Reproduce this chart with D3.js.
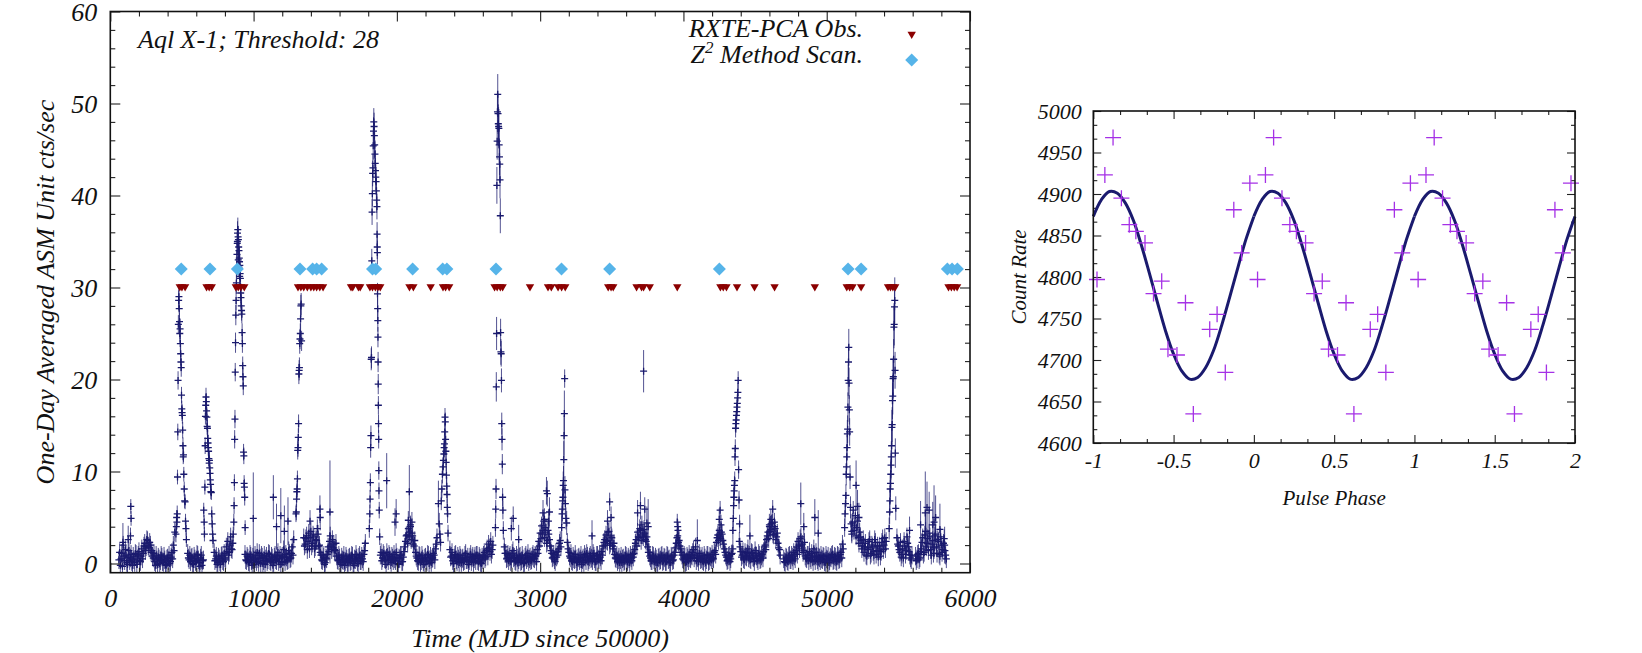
<!DOCTYPE html>
<html><head><meta charset="utf-8">
<script src="https://cdn.jsdelivr.net/npm/d3@7"></script>
<style>
body{margin:0;background:#fff}
text{font-family:"Liberation Serif","Times New Roman",serif;font-style:italic}
</style>
</head><body>
<svg id="c" width="1642" height="653"></svg>
<script>
// ================= DATA =================
// Left panel: ASM one-day light curve of Aql X-1 (quiescent samples, two interleaved series)
const baseStep = 10;                 // days between listed quiescent samples
const baseStartA = 60, baseStartB = 65;
const baseErr = 1.0;                 // typical one-day ASM uncertainty in quiescence
const baseRateA = [
 0.4,-0.2,1.1,2.0,0.3,0.9,-0.1,1.4,0.6,0.2,
 0.8,0.1,1.0,0.5,1.3,0.2,1.6,1.1,2.2,1.8,
 2.5,1.7,2.0,1.4,0.6,0.2,0.9,-0.1,0.5,0.3,
 0.7,0.1,0.4,-0.2,0.6,0.9,0.2,1.2,2.0,3.4,
 null,null,null,null,null,null,null,null,1.1,0.4,
 0.2,0.7,-0.1,0.5,0.3,0.9,0.1,0.6,-0.2,0.4,
 null,null,null,null,null,null,null,0.3,0.8,0.1,
 0.5,-0.1,0.9,0.2,0.6,1.8,2.4,1.2,2.9,1.5,
 null,null,null,null,null,null,null,null,1.0,0.3,
 0.6,0.1,0.8,-0.2,0.4,0.9,0.2,0.5,1.1,0.0,
 0.7,0.3,-0.1,0.8,0.4,1.0,0.2,0.6,0.1,0.9,
 0.3,1.2,0.5,-0.1,0.8,1.5,0.2,0.7,0.4,1.1,
 0.6,1.8,2.6,null,null,null,null,null,null,2.8,
 2.1,3.0,2.4,1.6,3.5,2.2,2.9,1.8,2.5,3.2,
 2.0,0.9,0.3,0.7,0.1,0.5,1.8,2.4,1.9,2.6,
 2.1,1.4,0.8,0.3,0.6,-0.1,0.4,0.9,0.2,0.5,
 0.1,0.7,0.3,0.8,-0.2,0.4,0.6,0.0,0.9,0.3,
 0.5,1.0,2.2,null,null,null,null,null,null,null,
 null,null,null,1.2,0.6,0.9,0.4,1.2,0.3,0.8,
 0.1,0.6,1.0,0.3,0.7,-0.1,0.5,0.9,0.2,1.3,
 2.4,3.1,3.8,3.4,2.6,3.0,1.9,1.2,0.6,0.2,
 0.8,0.3,0.5,-0.1,0.7,0.2,0.9,0.4,0.1,0.6,
 0.9,1.6,2.8,null,null,null,null,null,null,null,
 null,1.5,0.8,0.3,0.6,1.0,0.2,0.5,0.9,0.1,
 0.6,0.3,1.1,0.4,-0.1,0.7,0.2,0.8,0.5,0.3,
 0.9,0.2,0.6,0.0,0.4,1.2,0.7,1.6,2.1,1.3,
 1.0,2.0,null,null,null,null,null,null,null,1.8,
 1.1,0.6,0.3,0.9,0.5,1.4,0.7,0.2,0.6,0.4,
 0.8,0.3,0.5,0.1,0.9,0.6,0.2,0.7,0.4,1.0,
 0.5,0.8,1.5,2.4,3.3,4.1,3.6,2.8,3.9,2.5,
 3.2,1.9,1.1,0.7,0.4,1.2,0.9,1.6,2.5,null,
 null,null,null,2.3,1.2,0.6,0.3,0.8,0.4,0.5,
 0.2,0.7,0.5,-0.1,0.6,1.0,0.3,0.8,0.4,0.9,
 0.6,1.1,0.5,0.2,0.9,0.4,0.7,1.3,1.9,2.6,
 3.1,2.4,3.5,2.2,2.8,1.6,1.0,0.5,0.2,0.7,
 0.4,0.1,0.6,0.3,0.8,0.2,0.5,0.9,0.3,0.7,
 1.5,2.6,3.4,2.8,3.6,4.2,2.9,3.3,2.4,1.8,
 1.2,0.6,0.3,0.8,0.2,0.5,0.1,0.7,0.4,0.9,
 0.3,0.6,0.2,0.8,0.5,0.1,0.7,0.4,1.2,2.2,
 3.0,2.5,1.6,0.9,0.4,0.7,0.2,0.6,1.0,0.5,
 0.8,1.5,0.9,0.3,0.6,1.1,0.4,0.8,0.2,0.6,
 0.4,0.9,0.3,0.7,1.0,0.5,1.4,2.3,3.1,3.6,
 2.7,3.2,2.1,1.2,0.7,0.4,0.9,0.5,1.1,null,
 null,null,null,2.4,1.3,0.9,0.5,1.2,0.7,1.6,
 0.9,0.4,1.1,0.6,1.4,0.8,0.3,0.9,0.5,1.0,
 1.3,2.0,2.6,3.4,4.0,3.7,4.4,3.1,3.8,2.9,
 2.2,1.5,null,null,0.5,0.1,0.6,0.2,0.9,0.4,
 0.7,1.2,0.5,1.8,2.4,1.6,2.9,2.1,1.4,0.8,
 0.5,0.9,1.3,0.4,0.7,1.6,0.3,0.8,0.2,0.6,
 0.9,0.4,0.7,0.1,0.5,0.8,0.3,0.6,1.0,0.4,
 0.7,0.2,0.8,0.5,1.2,2.1,null,null,null,null,
 null,null,4.5,3.6,5.2,3.9,2.8,3.4,2.5,1.9,
 1.2,2.2,0.8,1.5,2.6,1.1,1.8,0.9,2.3,1.4,
 0.7,1.9,1.3,2.7,2.0,1.6,null,null,null,null,
 null,null,null,2.8,1.9,1.2,0.7,1.6,2.4,1.0,
 2.9,1.8,0.9,0.4,null,null,0.8,0.5,1.1,0.6,
 1.6,2.8,1.2,3.5,2.2,1.4,2.9,0.9,2.5,1.7,
 3.2,1.1,2.4,0.8,2.0,1.5,2.7,0.9
];
const baseRateB = [
 1.2,0.5,-0.3,0.8,1.5,0.1,0.7,0.3,1.0,-0.2,
 0.4,1.1,-0.1,0.9,0.3,0.8,0.5,1.9,1.4,2.6,
 1.9,2.3,1.2,0.8,1.1,-0.2,0.4,0.7,0.0,0.9,
 0.2,0.8,-0.1,0.5,0.3,0.0,0.7,0.5,1.4,null,
 null,null,null,null,null,null,null,null,0.6,0.9,
 0.6,0.0,0.8,0.2,1.0,0.4,-0.3,0.9,0.3,null,
 null,null,null,null,null,null,1.2,0.5,-0.1,0.7,
 0.2,0.8,0.3,1.1,0.4,1.3,0.9,2.0,1.6,2.2,
 null,null,null,null,null,null,null,null,0.4,0.8,
 0.2,1.0,0.3,0.7,-0.1,0.5,1.2,0.1,0.6,0.9,
 0.0,0.9,0.5,0.2,1.1,0.3,0.8,-0.2,0.7,0.4,
 0.8,0.2,0.9,0.6,0.1,0.7,1.0,0.3,1.4,0.5,
 1.1,0.9,null,null,null,null,null,null,null,1.9,
 2.7,1.5,3.3,2.8,1.9,3.1,1.6,2.6,3.8,1.9,
 1.2,0.4,0.9,-0.1,0.6,1.0,1.3,3.0,1.5,1.7,
 1.5,2.2,0.4,0.9,0.1,0.7,0.3,-0.2,0.8,0.1,
 0.6,0.2,0.9,0.0,0.5,1.0,0.2,0.7,0.3,0.8,
 0.2,1.4,null,null,null,null,null,null,null,null,
 null,null,0.9,0.3,1.1,0.5,-0.1,0.7,1.0,0.4,
 0.8,0.3,0.5,1.2,0.0,0.6,0.9,0.2,0.7,1.8,
 3.0,2.2,2.9,4.0,3.3,2.1,2.5,0.8,0.3,0.9,
 0.1,0.9,0.2,0.6,0.3,1.0,0.0,0.8,0.5,1.1,
 0.4,2.1,null,null,null,null,null,null,null,null,
 null,0.7,1.2,0.0,0.9,0.4,0.8,0.1,0.6,0.5,
 0.2,0.9,0.4,0.7,0.3,1.0,0.6,0.1,0.8,0.9,
 0.3,0.8,0.1,0.7,0.9,0.5,1.4,0.8,1.7,2.4,
 1.5,null,null,null,null,null,null,null,null,1.1,
 0.5,1.0,0.7,0.2,1.1,0.6,0.3,0.9,0.1,0.7,
 0.2,0.9,0.0,0.7,0.4,1.1,0.5,0.3,0.8,0.6,
 0.9,0.2,1.1,1.9,2.7,3.2,4.6,3.4,2.2,3.6,
 2.6,1.4,0.6,1.0,0.2,0.7,1.3,2.2,1.8,null,
 null,null,null,1.6,0.8,1.1,0.2,0.5,1.0,0.1,
 0.6,0.3,0.9,0.4,0.1,0.7,1.1,0.2,0.7,0.5,
 0.3,0.8,0.2,0.9,0.5,1.0,0.3,0.9,2.3,2.0,
 2.5,3.4,2.0,3.0,1.9,2.2,0.6,0.9,0.4,0.1,
 0.8,0.5,0.2,0.9,0.4,0.7,0.1,0.6,1.0,1.1,
 2.2,1.9,2.9,3.8,2.5,3.1,3.7,2.6,2.9,1.2,
 0.8,0.3,0.9,0.4,0.7,0.1,0.6,0.3,0.8,0.2,
 0.7,0.2,0.9,0.4,0.1,0.8,0.3,0.9,1.7,2.8,
 2.3,1.9,1.2,0.5,0.9,0.1,0.8,0.3,0.6,0.9,
 1.2,0.6,1.8,0.7,0.2,0.8,0.5,0.3,0.9,0.1,
 0.9,0.2,0.8,0.4,0.6,1.2,1.0,2.8,2.5,2.9,
 3.4,2.5,1.6,0.9,0.3,0.8,0.2,1.0,1.6,null,
 null,null,null,1.8,0.7,1.3,0.4,0.8,1.1,0.6,
 0.5,1.2,0.7,0.2,0.9,0.5,1.1,0.4,0.8,0.6,
 1.8,1.5,3.0,2.7,3.5,4.3,3.2,4.0,2.6,3.3,
 1.7,0.9,null,null,0.2,0.7,0.3,0.8,0.4,0.9,
 0.3,0.8,1.4,1.0,2.0,2.7,1.9,1.2,2.3,0.6,
 0.9,0.3,0.6,1.1,0.2,0.8,1.2,0.4,0.7,0.3,
 0.5,0.8,0.2,0.9,0.4,0.1,0.7,0.9,0.3,0.8,
 0.3,0.9,0.4,1.0,0.6,1.6,null,null,null,null,
 null,3.2,5.8,4.1,3.0,4.6,2.2,2.9,1.6,2.6,
 1.8,0.9,1.7,2.4,0.9,2.0,1.3,2.6,1.0,1.9,
 1.4,0.8,2.3,1.5,2.8,2.4,null,null,null,null,
 null,null,null,2.1,1.5,2.3,1.0,0.6,1.9,1.4,
 2.2,1.3,0.6,0.9,null,null,0.3,1.0,0.4,1.3,
 2.3,1.0,3.1,1.8,2.7,3.3,1.5,2.1,1.1,3.0,
 1.8,2.6,1.0,2.9,1.2,2.2,1.4,0.5
];
// outburst / elevated points: [day, rate, error]
const early = [[88,2.3,2.1],[125,2.6,1.5],[141,3.0,0.9],[143,6.2,0.8],[145,4.9,0.8]];
const burstA = [[458,3.2,0.9],[461,4.0,0.8],[463,5.0,0.8],[465,4.5,0.8],[467,5.4,0.9],[469,9.4,0.8],[471,14.3,0.9],[473,19.9,1.0],[475,26.0,1.0],[477,28.6,1.1],[479,29.0,1.2],[481,27.7,1.0],[483,26.3,1.0],[485,25.0,1.0],[487,25.5,1.1],[489,23.9,1.0],[491,22.8,1.0],[493,21.9,1.0],[495,21.3,1.0],[497,18.3,0.9],[499,16.8,0.9],[501,16.4,0.9],[503,16.1,0.9],[505,14.5,0.9],[507,12.8,0.9],[509,11.6,0.8],[511,11.8,0.8],[513,9.7,0.8],[516,8.1,0.8],[519,6.8,0.8],[522,6.7,0.8],[525,4.6,0.8],[528,3.8,0.8],[531,2.6,0.8]];
const burstB = [[652,5.8,0.8],[655,4.5,0.8],[657,3.2,0.8],[660,8.3,0.8],[662,12.8,0.9],[664,16.0,0.9],[666,17.2,0.9],[668,18.1,1.0],[670,17.6,0.9],[672,16.6,0.9],[674,15.9,0.9],[676,14.9,0.9],[678,14.7,0.9],[680,13.6,0.9],[682,13.1,0.9],[684,12.6,0.9],[686,12.2,0.9],[688,11.4,0.8],[690,10.9,0.8],[692,11.2,0.9],[694,10.4,0.8],[696,9.8,0.8],[698,9.1,0.8],[700,8.6,0.8],[702,7.8,0.8],[705,7.7,0.8],[708,5.4,0.8],[711,4.3,0.8],[714,3.2,0.8],[717,2.5,0.8]];
const burstC = [[858,3.2,0.8],[862,4.5,0.9],[864,6.3,0.9],[866,8.8,0.9],[868,13.5,1.0],[870,15.7,1.0],[872,20.8,1.0],[874,24.0,1.1],[876,27.0,1.1],[878,28.6,1.1],[880,30.5,1.2],[882,32.0,1.2],[884,33.6,1.2],[886,34.8,1.2],[887,35.0,1.2],[888,35.9,1.3],[890,36.3,1.3],[892,35.5,1.2],[893,33.0,1.2],[894,35.2,1.2],[896,34.4,1.2],[897,32.2,1.1],[898,34.0,1.2],[900,33.2,1.2],[902,32.8,1.2],[903,31.2,1.1],[904,32.4,1.2],[906,31.5,1.1],[908,31.0,1.1],[910,29.4,1.1],[912,28.9,1.1],[914,28.0,1.1],[916,27.5,1.1],[918,27.1,1.0],[920,25.1,1.0],[922,23.9,1.0],[924,21.5,1.0],[926,20.3,1.0],[928,19.3,1.0],[930,12.1,0.9],[932,11.7,0.9],[934,8.7,0.9],[936,8.3,0.9],[938,7.2,0.9],[941,3.9,0.8]];
const burstD = [[1296,5.4,0.9],[1298,5.6,0.9],[1300,7.0,0.9],[1302,7.8,0.9],[1304,8.1,0.9],[1306,9.2,0.9],[1308,12.3,1.0],[1310,12.6,1.0],[1312,13.7,1.0],[1314,15.2,1.0],[1316,20.6,1.1],[1318,21.0,1.1],[1320,21.3,1.1],[1322,23.9,1.1],[1324,24.4,1.1],[1326,25.0,1.1],[1328,26.6,1.2],[1330,28.0,1.2],[1332,28.2,1.2],[1335,24.2,1.1]];
const burstE = [[1808,3.8,1.0],[1811,5.4,1.0],[1813,7.0,1.0],[1815,8.8,1.0],[1817,12.6,1.1],[1819,13.9,1.1],[1821,22.2,1.2],[1823,22.4,1.2],[1825,32.9,1.3],[1827,38.2,1.4],[1829,40.2,1.4],[1831,42.4,1.4],[1833,43.0,1.4],[1835,45.4,1.5],[1837,47.0,1.5],[1839,48.0,1.5],[1841,47.5,1.5],[1843,46.5,1.5],[1845,45.5,1.5],[1847,44.5,1.5],[1849,43.5,1.4],[1851,42.7,1.4],[1853,42.0,1.4],[1855,41.5,1.4],[1857,40.5,1.4],[1859,39.5,1.4],[1861,38.8,1.4],[1862,35.8,1.3],[1863,34.4,1.3],[1864,33.8,1.3],[1865,29.3,1.2],[1866,27.7,1.2],[1867,26.4,1.2],[1868,24.6,1.1],[1869,21.9,1.1],[1870,19.5,1.1],[1871,17.2,1.0],[1872,15.2,1.0],[1873,13.5,1.0],[1874,10.1,1.0],[1875,7.9,0.9],[1877,5.8,0.9],[1880,2.9,0.9]];
const burstF = [[2290,6.5,2.5],[2296,4.3,1.2],[2300,3.2,1.0],[2305,2.3,1.0],[2310,6.8,1.0],[2314,8.1,1.0],[2318,9.7,1.0],[2322,10.5,1.0],[2325,11.2,1.0],[2328,11.9,1.0],[2330,12.6,1.0],[2332,13.0,1.0],[2334,14.3,1.0],[2336,15.9,1.0],[2338,15.4,1.0],[2340,13.5,1.0],[2342,12.2,1.0],[2344,11.0,1.0],[2346,9.6,1.0],[2348,8.4,1.0],[2350,7.5,1.0],[2352,6.1,1.0],[2354,5.4,1.0],[2357,3.3,0.9]];
const burstG = [[2688,3.9,1.0],[2690,5.9,1.0],[2692,8.1,1.1],[2694,19.2,1.6],[2696,25.0,1.8],[2698,41.1,2.0],[2700,45.9,2.0],[2702,49.1,2.2],[2704,51.0,2.2],[2706,48.9,2.2],[2708,47.8,2.1],[2710,47.5,2.1],[2712,47.3,2.1],[2714,45.5,2.0],[2716,44.2,2.0],[2718,43.4,2.0],[2720,41.7,2.0],[2722,37.8,1.9],[2724,25.1,1.5],[2726,23.0,1.4],[2728,22.8,1.4],[2730,19.9,1.3],[2732,15.2,1.2],[2734,13.5,1.2],[2736,10.8,1.1],[2738,7.2,1.0],[2740,5.8,1.0],[2743,3.6,1.0]];
const burstH = [[3150,3.9,1.2],[3153,5.4,1.2],[3155,5.9,1.3],[3157,6.8,1.4],[3159,7.2,1.5],[3161,8.5,1.5],[3163,9.0,1.6],[3165,11.3,2.0],[3167,13.9,2.2],[3169,16.3,2.5],[3171,20.1,1.0],[3173,8.0,1.5],[3176,6.5,1.4],[3180,4.9,1.2],[3185,4.4,1.3]];
const burstI = [[4345,3.6,1.0],[4348,4.9,1.0],[4350,6.3,1.0],[4352,7.2,1.0],[4354,7.9,1.0],[4356,8.5,1.0],[4358,9.0,1.0],[4360,11.6,1.0],[4362,12.5,1.0],[4364,14.7,1.0],[4366,15.2,1.0],[4368,15.6,1.0],[4370,16.1,1.0],[4372,16.5,1.0],[4374,17.0,1.0],[4376,17.4,1.0],[4378,18.0,1.0],[4380,18.6,1.0],[4382,19.9,1.0],[4385,10.2,1.0],[4388,6.9,1.0],[4392,4.3,1.0]];
const burstJ = [[5125,3.9,1.0],[5128,5.4,1.1],[5131,6.5,1.1],[5134,7.4,1.2],[5136,9.7,1.2],[5138,10.5,1.3],[5140,11.6,1.3],[5142,12.6,1.4],[5144,14.1,1.5],[5146,14.6,1.5],[5148,17.0,1.6],[5150,19.9,1.7],[5152,21.9,1.8],[5154,23.5,2.0],[5156,19.6,1.7],[5158,16.7,1.6],[5160,14.3,1.5],[5163,9.4,1.3],[5166,6.1,1.2],[5170,4.3,1.1],[5175,3.5,1.1]];
const burstK = [[5436,3.8,1.2],[5439,5.6,1.3],[5441,6.8,1.4],[5443,8.1,1.5],[5445,8.7,1.5],[5447,9.7,1.6],[5449,10.7,1.6],[5451,11.6,1.7],[5453,12.8,1.8],[5455,14.8,1.9],[5457,15.1,1.9],[5459,17.7,2.0],[5461,18.2,2.0],[5463,20.1,2.1],[5465,20.3,2.1],[5467,22.2,2.2],[5469,25.7,2.3],[5471,26.0,2.3],[5473,27.9,2.4],[5475,28.6,2.5],[5477,21.0,2.0],[5479,12.0,1.6],[5482,6.0,1.3]];
const scattered = [[998,4.9,5.0],[1138,7.2,2.4],[1160,4.0,2.5],[1190,5.2,3.0],[1215,3.5,2.8],[1240,4.6,2.6],
 [1394,4.6,1.2],[1463,5.9,1.5],[1465,5.0,1.4],[1533,5.6,5.6],[1929,9.0,3.0],[1987,4.5,1.5],[1995,5.4,1.6],
 [2080,4.7,1.0],[2087,7.8,2.9],[2095,4.2,1.0],[2105,4.5,1.1],[2799,3.8,1.3],[2812,4.9,1.3],[2850,2.6,1.6],
 [3020,5.5,1.4],[3030,4.8,1.2],[3044,7.9,1.5],[3050,7.6,1.4],[3058,4.6,1.3],[3065,5.6,1.6],[3362,3.0,1.7],
 [3470,4.6,1.2],[3485,6.7,1.0],[3495,5.0,1.2],[3680,5.5,1.4],[3700,6.3,1.5],[3722,20.9,2.3],[3730,5.9,1.3],
 [3745,4.4,1.8],[3754,4.0,3.0],[3957,4.5,0.9],[3960,4.0,0.8],[3962,3.6,0.9],[4097,2.5,2.3],[4250,4.8,1.2],
 [4256,5.8,1.0],[4262,4.2,1.1],[4464,3.0,2.3],[4600,4.2,1.2],[4610,4.8,1.1],[4623,5.9,1.0],[4635,4.5,1.0],
 [4819,6.5,2.3],[4840,4.0,1.5],[4917,5.0,2.0],[4941,3.3,2.5],[5205,8.5,2.7],[5215,6.2,1.8],[5225,5.0,1.6],
 [5578,3.6,1.5],[5655,4.2,2.6],[5688,5.5,4.5],[5690,3.5,2.2],[5700,6.1,2.8],[5715,5.8,2.0],[5740,4.2,2.5],
 [5749,4.5,4.0],[5760,5.0,2.4],[5790,3.7,2.8],[5823,2.0,2.0]];
// RXTE-PCA pointed observations (plotted at 30) and Z^2 scans (plotted at 32)
const pcaObs = [485,500,522,672,690,708,876,893,912,935,1310,1330,1350,1375,1400,1420,1440,1462,1485,
 1680,1692,1732,1744,1812,1830,1850,1868,1884,2088,2115,2236,2322,2340,2365,2682,2700,2722,2738,2929,
 3055,3078,3125,3150,3175,3475,3495,3510,3673,3708,3722,3765,3957,4258,4278,4300,4374,4496,4636,4917,
 5140,5160,5180,5240,5428,5445,5462,5478,5850,5870,5890,5910];
const pcaLevel = 30;
const z2Scan = [495,696,887,1324,1412,1440,1475,1830,1852,2110,2320,2349,2692,3149,3485,4251,5149,5240,5842,5875,5912];
const z2Level = 32;
const xTicks = [0,1000,2000,3000,4000,5000,6000];
const xTickLabels = ["0","1000","2000","3000","4000","5000","6000"];
const yTicks = [0,10,20,30,40,50,60];
const yTickLabels = ["0","10","20","30","40","50","60"];

// Right panel: pulse profile (one cycle, repeated over phases -1..2)
const pulsePhase = [-0.977,-0.928,-0.877,-0.825,-0.776,-0.735,-0.678,-0.625,-0.574,-0.535,-0.479,-0.426,-0.377,-0.275,-0.229,-0.178,-0.125,-0.076,-0.025];
const pulseRate  = [4797,4923,4968,4895,4863,4855,4841,4780,4795,4713,4706,4769,4635,4737,4755,4685,4881,4829,4913];
const cycles = [0,1,2];
const fitPhase = [0,0.05,0.1,0.15,0.2,0.25,0.3,0.35,0.4,0.45,0.5,0.55,0.6,0.65,0.7,0.75,0.8,0.85,0.9,0.95,1.0];
const fitRate  = [4873,4893,4903,4901,4889,4868,4838,4804,4769,4735,4707,4687,4677,4679,4691,4712,4742,4776,4811,4845,4873];
const pxTicks = [-1,-0.5,0,0.5,1,1.5,2];
const pxTickLabels = ["-1","-0.5","0","0.5","1","1.5","2"];
const pyTicks = [4600,4650,4700,4750,4800,4850,4900,4950,5000];
const pyTickLabels = ["4600","4650","4700","4750","4800","4850","4900","4950","5000"];

// ================= DRAWING =================
const svg = d3.select("#c");
svg.append("rect").attr("width",1642).attr("height",653).attr("fill","#fff");
const NAVY = "#1a1a6e", DARKRED = "#8b0000", SKY = "#56b4e9", VIOLET = "#a531e6";

function fixAxis(g, fs){
  g.select(".domain").remove();
  g.attr("font-family", null).attr("font-size", fs).style("color","#111");
  g.selectAll("line").attr("stroke","#222").attr("stroke-width",1.1);
}

// ---------- LEFT ----------
const L = {x0:110.3, x1:970, yTop:11.5, yBot:572.7};
const x = d3.scaleLinear().domain([0,6000]).range([L.x0, L.x1]);
const y = d3.scaleLinear().domain([-1,60]).range([L.yBot, L.yTop]);
const xMinor = d3.range(0,6001,200).filter(d=>!xTicks.includes(d));
const yMinor = d3.range(0,61,2).filter(d=>!yTicks.includes(d));

svg.append("clipPath").attr("id","clipL").append("rect")
  .attr("x",L.x0).attr("y",L.yTop).attr("width",L.x1-L.x0).attr("height",L.yBot-L.yTop);

const pts = [];
baseRateA.forEach((v,i)=>{ if(v!==null) pts.push({t: baseStartA+i*baseStep, v, e: baseErr}); });
baseRateB.forEach((v,i)=>{ if(v!==null) pts.push({t: baseStartB+i*baseStep, v, e: baseErr}); });
[early,burstA,burstB,burstC,burstD,burstE,burstF,burstG,burstH,burstI,burstJ,burstK,scattered]
  .forEach(arr=>arr.forEach(([t,v,e])=>pts.push({t,v,e})));

const gData = svg.append("g").attr("clip-path","url(#clipL)");
gData.selectAll("line.eb").data(pts).join("line").attr("class","eb")
  .attr("x1",d=>x(d.t)).attr("x2",d=>x(d.t))
  .attr("y1",d=>y(d.v-d.e)).attr("y2",d=>y(d.v+d.e))
  .attr("stroke",NAVY).attr("stroke-width",1).attr("stroke-opacity",0.75);
gData.selectAll("path.cr").data(pts).join("path").attr("class","cr")
  .attr("d","M-3.5,0H3.5M0,-3.5V3.5")
  .attr("transform",d=>`translate(${x(d.t)},${y(d.v)})`)
  .attr("stroke",NAVY).attr("stroke-width",1.3).attr("fill","none");

const triPath = "M-4.2,-3.3L4.2,-3.3L0,3.9Z";
const diaPath = "M0,-6.5L6.5,0L0,6.5L-6.5,0Z";
svg.append("g").selectAll("path").data(pcaObs).join("path")
  .attr("d",triPath).attr("transform",d=>`translate(${x(d)},${y(pcaLevel)})`).attr("fill",DARKRED);
svg.append("g").selectAll("path").data(z2Scan).join("path")
  .attr("d",diaPath).attr("transform",d=>`translate(${x(d)},${y(z2Level)})`).attr("fill",SKY);

// axes left
const axL = svg.append("g");
axL.append("g").attr("transform",`translate(0,${L.yBot})`)
  .call(d3.axisBottom(x).tickValues(xTicks).tickFormat((d,i)=>xTickLabels[i]).tickSizeInner(-10).tickSizeOuter(0))
  .call(g=>fixAxis(g,26)).call(g=>g.selectAll("text").attr("dy",0).attr("y",34.8));
axL.append("g").attr("transform",`translate(0,${L.yBot})`)
  .call(d3.axisBottom(x).tickValues(xMinor).tickFormat("").tickSizeInner(-5).tickSizeOuter(0)).call(g=>fixAxis(g,26));
axL.append("g").attr("transform",`translate(0,${L.yTop})`)
  .call(d3.axisTop(x).tickValues(xTicks).tickFormat("").tickSizeInner(-10).tickSizeOuter(0)).call(g=>fixAxis(g,26));
axL.append("g").attr("transform",`translate(0,${L.yTop})`)
  .call(d3.axisTop(x).tickValues(xMinor).tickFormat("").tickSizeInner(-5).tickSizeOuter(0)).call(g=>fixAxis(g,26));
axL.append("g").attr("transform",`translate(${L.x0},0)`)
  .call(d3.axisLeft(y).tickValues(yTicks).tickFormat((d,i)=>yTickLabels[i]).tickSizeInner(-10).tickSizeOuter(0).tickPadding(13))
  .call(g=>fixAxis(g,26)).call(g=>g.selectAll("text").attr("dy",0).attr("y",9));
axL.append("g").attr("transform",`translate(${L.x0},0)`)
  .call(d3.axisLeft(y).tickValues(yMinor).tickFormat("").tickSizeInner(-5).tickSizeOuter(0)).call(g=>fixAxis(g,26));
axL.append("g").attr("transform",`translate(${L.x1},0)`)
  .call(d3.axisRight(y).tickValues(yTicks).tickFormat("").tickSizeInner(-10).tickSizeOuter(0)).call(g=>fixAxis(g,26));
axL.append("g").attr("transform",`translate(${L.x1},0)`)
  .call(d3.axisRight(y).tickValues(yMinor).tickFormat("").tickSizeInner(-5).tickSizeOuter(0)).call(g=>fixAxis(g,26));
svg.append("rect").attr("x",L.x0).attr("y",L.yTop).attr("width",L.x1-L.x0).attr("height",L.yBot-L.yTop)
  .attr("fill","none").attr("stroke","#111").attr("stroke-width",1.6);

svg.append("text").attr("x",(L.x0+L.x1)/2).attr("y",647).attr("text-anchor","middle")
  .attr("font-size",26).attr("fill","#111").text("Time (MJD since 50000)");
svg.append("text").attr("transform",`translate(53.5,${(L.yTop+L.yBot)/2}) rotate(-90)`).attr("text-anchor","middle")
  .attr("font-size",26).attr("fill","#111").text("One-Day Averaged ASM Unit cts/sec");
svg.append("text").attr("x",138).attr("y",48).attr("font-size",26).attr("fill","#111").text("Aql X-1; Threshold: 28");

// legend
svg.append("text").attr("x",863).attr("y",37.3).attr("text-anchor","end").attr("font-size",26).attr("fill","#111").text("RXTE-PCA Obs.");
const lg2 = svg.append("text").attr("x",863).attr("y",62.7).attr("text-anchor","end").attr("font-size",26).attr("fill","#111");
lg2.append("tspan").text("Z");
lg2.append("tspan").attr("font-size",17).attr("dy",-10).text("2");
lg2.append("tspan").attr("dy",10).text(" Method Scan.");
svg.append("path").attr("d",triPath).attr("transform","translate(911.7,35)").attr("fill",DARKRED);
svg.append("path").attr("d",diaPath).attr("transform","translate(911.7,60)").attr("fill",SKY);

// ---------- RIGHT ----------
const R = {x0:1093.3, x1:1575, yTop:111, yBot:443};
const px = d3.scaleLinear().domain([-1,2]).range([R.x0,R.x1]);
const py = d3.scaleLinear().domain([4600,5000]).range([R.yBot,R.yTop]);
const pxMinor = d3.range(0,19).map(i=>-1+i/6).filter(d=>Math.abs(d*2-Math.round(d*2))>1e-6);
const pyMinor = d3.range(0,25).map(i=>4600+i*50/3).filter(d=>Math.abs(d/50-Math.round(d/50))>1e-6);

const axR = svg.append("g");
axR.append("g").attr("transform",`translate(0,${R.yBot})`)
  .call(d3.axisBottom(px).tickValues(pxTicks).tickFormat((d,i)=>pxTickLabels[i]).tickSizeInner(-8).tickSizeOuter(0))
  .call(g=>fixAxis(g,22)).call(g=>g.selectAll("text").attr("dy",0).attr("y",24.5));
axR.append("g").attr("transform",`translate(0,${R.yBot})`)
  .call(d3.axisBottom(px).tickValues(pxMinor).tickFormat("").tickSizeInner(-4).tickSizeOuter(0)).call(g=>fixAxis(g,22));
axR.append("g").attr("transform",`translate(0,${R.yTop})`)
  .call(d3.axisTop(px).tickValues(pxTicks).tickFormat("").tickSizeInner(-8).tickSizeOuter(0)).call(g=>fixAxis(g,22));
axR.append("g").attr("transform",`translate(0,${R.yTop})`)
  .call(d3.axisTop(px).tickValues(pxMinor).tickFormat("").tickSizeInner(-4).tickSizeOuter(0)).call(g=>fixAxis(g,22));
axR.append("g").attr("transform",`translate(${R.x0},0)`)
  .call(d3.axisLeft(py).tickValues(pyTicks).tickFormat((d,i)=>pyTickLabels[i]).tickSizeInner(-8).tickSizeOuter(0).tickPadding(11.5))
  .call(g=>fixAxis(g,22));
axR.append("g").attr("transform",`translate(${R.x0},0)`)
  .call(d3.axisLeft(py).tickValues(pyMinor).tickFormat("").tickSizeInner(-4).tickSizeOuter(0)).call(g=>fixAxis(g,22));
axR.append("g").attr("transform",`translate(${R.x1},0)`)
  .call(d3.axisRight(py).tickValues(pyTicks).tickFormat("").tickSizeInner(-8).tickSizeOuter(0)).call(g=>fixAxis(g,22));
axR.append("g").attr("transform",`translate(${R.x1},0)`)
  .call(d3.axisRight(py).tickValues(pyMinor).tickFormat("").tickSizeInner(-4).tickSizeOuter(0)).call(g=>fixAxis(g,22));

// fitted curve, one cycle drawn per phase offset
const line = d3.line().x(d=>px(d[0])).y(d=>py(d[1])).curve(d3.curveCatmullRom);
cycles.forEach(c=>{
  const seg = fitPhase.map((p,i)=>[p-1+c, fitRate[i]]);
  svg.append("path").attr("d",line(seg)).attr("fill","none").attr("stroke",NAVY).attr("stroke-width",3);
});
// data crosses
const ppts = [];
cycles.forEach(c=>pulsePhase.forEach((p,i)=>ppts.push([p+c, pulseRate[i]])));
svg.append("g").selectAll("path").data(ppts).join("path")
  .attr("d","M-8,0H8M0,-8V8").attr("transform",d=>`translate(${px(d[0])},${py(d[1])})`)
  .attr("stroke",VIOLET).attr("stroke-width",1.3).attr("fill","none");

svg.append("rect").attr("x",R.x0).attr("y",R.yTop).attr("width",R.x1-R.x0).attr("height",R.yBot-R.yTop)
  .attr("fill","none").attr("stroke","#111").attr("stroke-width",1.6);

svg.append("text").attr("x",(R.x0+R.x1)/2).attr("y",505).attr("text-anchor","middle")
  .attr("font-size",21).attr("fill","#111").text("Pulse Phase");
svg.append("text").attr("transform",`translate(1026,${(R.yTop+R.yBot)/2}) rotate(-90)`).attr("text-anchor","middle")
  .attr("font-size",21).attr("fill","#111").text("Count Rate");
</script>
</body></html>
